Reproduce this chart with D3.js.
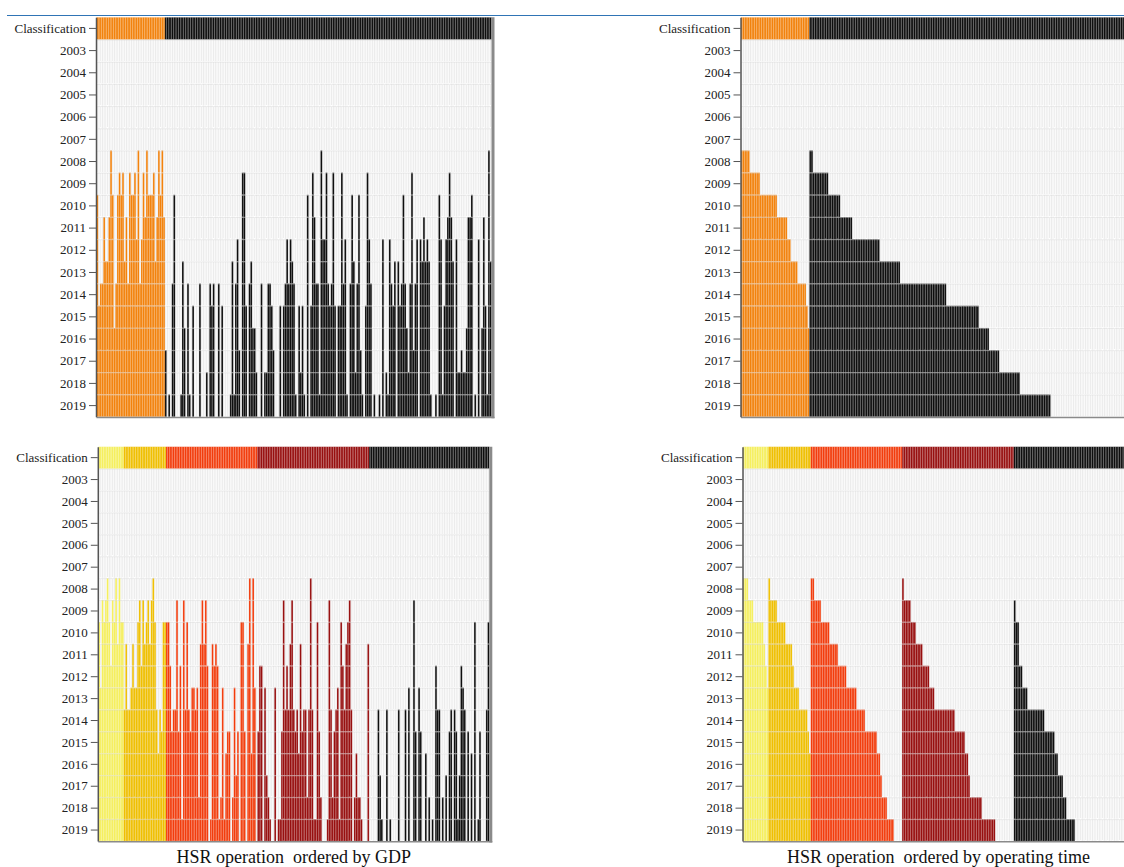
<!DOCTYPE html>
<html>
<head>
<meta charset="utf-8">
<script src="https://cdn.jsdelivr.net/npm/d3@7"></script>
<style>
  body { margin: 0; background: #fff; }
  svg text { font-family: "Liberation Serif", "Times New Roman", serif; }
</style>
</head>
<body>
<svg id="chart" width="1124" height="867"></svg>
<script>
// Row labels of every panel
const yearTicks = ["2003","2004","2005","2006","2007","2008","2009","2010","2011",
                   "2012","2013","2014","2015","2016","2017","2018","2019"];

// Year each city's high-speed rail opened (null = no line by 2019), cities listed by GDP.
// Two-class grouping
const twoClassColors = ["#f2820c", "#0e0e0e"];
const openTwoA = [2010,2015,2014,2014,2011,2013,2013,2011,2008,2010,2016,2014,2010,2009,2010,2009,2013,2011,2014,2009,
                  2010,2010,2009,2012,2008,2014,2012,2009,2011,2008,2010,2010,2010,2009,2013,2011,2008,2010,2008,2011];
const openTwoB = [2017,null,2019,null,2014,2010,null,null,null,2019,2013,2016,null,2014,2019,null,2015,null,null,null,
                  2014,null,null,null,2018,null,2014,2015,2014,null,null,2014,null,2015,null,null,null,null,2019,2013,
                  2019,2014,2012,2017,null,2009,2009,2015,null,2014,2013,2016,2016,2018,null,null,2014,null,2018,2018,
                  2014,2014,2015,2017,null,null,null,2015,null,2015,2014,2012,2014,2012,2013,2014,2019,null,2015,2018,
                  2015,2019,null,2010,null,2015,2009,2011,2014,2014,2019,2008,2012,2012,2009,2014,2015,2014,2009,2015,
                  null,2015,2015,2009,2014,2012,2019,null,2014,2010,2013,2018,2014,2010,2017,2019,null,2015,2009,2012,
                  2014,null,2019,null,null,2019,null,2012,null,2018,2019,2012,2014,2015,2013,null,2013,2015,2014,2010,
                  2014,2016,2018,2014,2009,2017,2014,2012,null,2012,2013,2011,2013,2012,2013,2019,null,null,2019,null,
                  2010,2012,2019,2015,2012,2011,2009,2011,2013,null,2012,2018,2018,2017,2018,2018,2016,2011,2011,2010,
                  null,2019,null,2012,null,2016,2011,2015,2019,2008,2013];

// Five-class grouping
const fiveClassColors = ["#f5ef5e", "#efbf00", "#f23c0c", "#970f0f", "#0e0e0e"];
const openFiveA = [2010,2013,2009,2010,2009,2008,2010,2012,2009,2010,2008,2011,2008,2010,2010];
const openFiveB = [2014,2011,2014,2014,2013,2011,2013,2013,2010,2009,2012,2009,2011,2010,2009,2011,2009,2008,2010,2014,
                   2016,2014,2015,2010,2010];
const openFiveC = [2010,2010,2012,2015,2014,2014,2009,2015,2012,2019,2009,2014,2010,2014,2015,2013,2013,2014,2013,2018,
                   2011,2009,2011,2009,2012,null,2019,2011,2012,2011,2012,2019,2018,2013,2019,2016,2015,2015,null,2018,
                   2013,2017,2015,null,2010,2010,2015,null,2011,2008,2016,2008,2013,null];
const openFiveD = [2015,2012,2012,null,2013,2017,2018,2019,null,null,2013,null,2019,2019,2015,2009,2014,2012,2014,2011,
                   2009,2014,2015,2014,2016,2011,2015,2014,2014,2018,2014,2008,2014,2019,2019,2010,2015,2018,null,null,
                   null,2019,2009,2014,2018,2015,2014,2013,2019,2010,2012,2014,2011,2010,2009,2014,null,2018,2016,2018,
                   2018,2019,null,null,null,2011];
const openFiveE = [null,null,null,null,null,2014,2017,2019,null,null,2014,null,2019,null,null,null,null,2014,null,null,
                   null,2014,null,2013,null,null,2009,2015,null,2013,2015,null,null,2016,null,2018,null,2019,null,2012,
                   2014,2014,null,2018,null,2017,null,2015,2014,null,2014,2015,2019,2017,2012,2013,2014,null,2015,null,
                   2016,null,2010,null,2019,2015,null,null,null,2014,2010];

const titles = ["HSR operation  ordered by GDP", "HSR operation  ordered by operating time"];

const svg = d3.select("#chart");
const rowLabels = ["Classification"].concat(yearTicks);

function buildCities(groups) {
  const out = [];
  groups.forEach((arr, gi) => arr.forEach(v => out.push({ cls: gi, open: v })));
  return out;
}

// Keep class blocks, earliest opening first, cities without a line at the end of their block
function byOperatingTime(cities) {
  return cities.map((c, i) => Object.assign({ i }, c)).sort((a, b) =>
    a.cls - b.cls ||
    (a.open == null) - (b.open == null) ||
    ((a.open || 0) - (b.open || 0)) ||
    a.i - b.i);
}

function drawPanel(cities, colors, box, title) {
  const g = svg.append("g");
  const x = d3.scaleBand().domain(d3.range(cities.length)).range([box.x, box.x + box.w]);
  const y = d3.scaleBand().domain(rowLabels).range([box.y, box.y + box.h]);

  const cells = [];
  cities.forEach((c, i) => rowLabels.forEach(r => cells.push({ i, r, c })));

  // empty grid
  g.append("g").selectAll("rect")
    .data(cells.filter(d => d.r !== "Classification"))
    .join("rect")
      .attr("x", d => x(d.i)).attr("y", d => y(d.r))
      .attr("width", x.bandwidth()).attr("height", y.bandwidth())
      .attr("fill", "#ececec").attr("stroke", "#fff").attr("stroke-width", 0.5);

  // class strip and years with service
  g.append("g").selectAll("rect")
    .data(cells.filter(d => d.r === "Classification" || (d.c.open != null && +d.r >= d.c.open)))
    .join("rect")
      .attr("x", d => x(d.i)).attr("y", d => y(d.r))
      .attr("width", x.bandwidth()).attr("height", y.bandwidth())
      .attr("fill", d => colors[d.c.cls])
      .attr("stroke", "#fff").attr("stroke-width", 0.5).attr("stroke-opacity", 0.22);

  // row separators
  g.append("g").selectAll("line")
    .data(yearTicks)
    .join("line")
      .attr("x1", box.x).attr("x2", box.x + box.w)
      .attr("y1", d => y(d) + 0.5).attr("y2", d => y(d) + 0.5)
      .attr("stroke", "#d4d4d4").attr("stroke-opacity", 0.45).attr("stroke-width", 1);

  // bottom and right edges
  g.append("line")
    .attr("x1", box.x).attr("x2", box.x + box.w + 3)
    .attr("y1", box.y + box.h + 0.75).attr("y2", box.y + box.h + 0.75)
    .attr("stroke", "#8a8a8a").attr("stroke-width", 1.5);
  g.append("line")
    .attr("x1", box.x + box.w + 1.5).attr("x2", box.x + box.w + 1.5)
    .attr("y1", box.y).attr("y2", box.y + box.h + 1.5)
    .attr("stroke", "#8a8a8a").attr("stroke-width", 3);

  const ax = g.append("g")
    .attr("transform", `translate(${box.x - 0.5},0)`)
    .call(d3.axisLeft(y).tickSize(7).tickSizeOuter(0).tickPadding(3));
  ax.selectAll("text").attr("font-size", 13).attr("fill", "#222")
    .attr("font-family", "Liberation Serif, Times New Roman, serif");
  ax.selectAll("line").attr("stroke", "#555");
  ax.select(".domain").attr("stroke", "#555").attr("stroke-width", 1.5);

  if (title) {
    g.append("text")
      .attr("x", box.x + box.w / 2).attr("y", box.y + box.h + 22)
      .attr("text-anchor", "middle")
      .attr("font-size", 18).attr("fill", "#111")
      .style("white-space", "pre")
      .text(title);
  }
}

// thin rule across the top of the page
svg.append("line")
  .attr("x1", 7).attr("x2", 1124).attr("y1", 15.5).attr("y2", 15.5)
  .attr("stroke", "#2f74b5").attr("stroke-width", 1.2);

const twoCities = buildCities([openTwoA, openTwoB]);
const fiveCities = buildCities([openFiveA, openFiveB, openFiveC, openFiveD, openFiveE]);

drawPanel(twoCities, twoClassColors, { x: 96.5, y: 17.3, w: 395, h: 399.4 }, null);
drawPanel(byOperatingTime(twoCities), twoClassColors, { x: 741, y: 17.3, w: 395, h: 399.4 }, null);
drawPanel(fiveCities, fiveClassColors, { x: 98.3, y: 446.7, w: 391, h: 394.3 }, titles[0]);
drawPanel(byOperatingTime(fiveCities), fiveClassColors, { x: 743, y: 446.7, w: 391, h: 394.3 }, titles[1]);
</script>
</body>
</html>
